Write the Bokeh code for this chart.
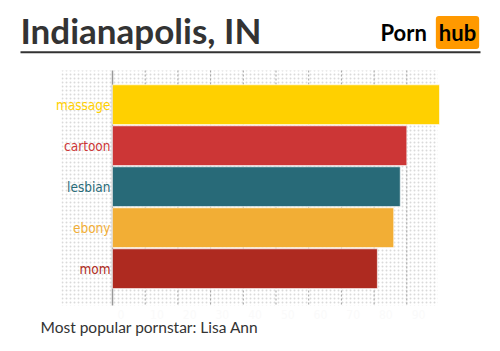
from bokeh.plotting import figure
from bokeh.models import Range1d, Label
from bokeh.embed import file_html
from bokeh.resources import INLINE
from bokeh.core.properties import value

# ---- data ----
categories = ["massage", "cartoon", "lesbian", "ebony", "mom"]
values = [100, 90, 88, 86, 81]
colors = ["#FFD000", "#CC3636", "#286A78", "#F2AE35", "#AE2A20"]
tick_values = [0, 10, 20, 30, 40, 50, 60, 70, 80, 90]
tick_labels = [str(t) for t in tick_values]
title_text = "Indianapolis, IN"
footer_text = "Most popular pornstar: Lisa Ann"

# ---- layout (pixel geometry of the page) ----
W, H = 500, 351
X0PX, XSCALE = 112.0, 3.27    # px of value 0, px per unit
Y0PX, YSTEP = 104.2, 41.0     # px of first bar centre, px per band


def px2x(px):
    return (px - X0PX) / XSCALE


def py2y(py):
    return (py - Y0PX) / YSTEP


p = figure(width=W, height=H, output_backend="svg", toolbar_location=None,
           x_range=Range1d(px2x(0), px2x(W)),
           y_range=Range1d(start=py2y(H), end=py2y(0)),
           x_axis_location=None, y_axis_location=None, min_border=0)
p.grid.visible = False
p.outline_line_color = None
p.background_fill_color = "white"
p.border_fill_color = "white"

# dotted background
p.quad(left=px2x(61), right=px2x(437), top=py2y(70), bottom=py2y(305),
       fill_color=None, line_color=None, hatch_pattern="dot",
       hatch_color="#d4d4d4", hatch_alpha=0.85, hatch_scale=4,
       hatch_weight=0.5)

# vertical grid lines
gx = tick_values[1:]
p.segment(x0=gx, x1=gx, y0=[py2y(70)] * len(gx), y1=[py2y(305)] * len(gx),
          line_color="#a0a0a0", line_dash="2 2", line_width=1)
# axis line
p.segment(x0=[0], x1=[0], y0=[py2y(70)], y1=[py2y(305)],
          line_color="#999999", line_width=1.5)

# bars
idx = list(range(len(categories)))
p.hbar(y=idx, left=0, right=values, height=0.97, fill_color=colors,
       line_color="white", line_alpha=0.6, line_width=1)

# category labels
p.text(x=[px2x(110)] * len(categories), y=idx, text=categories,
       text_color=colors, text_align="right", text_baseline="middle",
       text_font=value("DejaVu Sans Condensed"), text_font_size="13.5px")

# faint tick labels
p.text(x=[t + 1.5 for t in tick_values], y=[py2y(314)] * len(tick_values),
       text=tick_labels, text_color="#fafafa", text_align="left",
       text_baseline="middle", text_font=value("DejaVu Sans Condensed"),
       text_font_size="12px")

# title and rule
p.add_layout(Label(x=px2x(20), y=py2y(29), text=title_text,
                   text_font="Lato", text_font_style="bold",
                   text_font_size="35px", text_color="#333333",
                   text_baseline="middle"))
p.segment(x0=[px2x(20)], x1=[px2x(480)], y0=[py2y(51.8)], y1=[py2y(51.8)],
          line_color="#333333", line_width=2)

# logo
p.add_layout(Label(x=px2x(380), y=py2y(32), text="Porn",
                   text_font="Lato", text_font_style="bold",
                   text_font_size="22px", text_color="#000000",
                   text_baseline="middle"))
p.add_layout(Label(x=px2x(457), y=py2y(32), text="hub",
                   text_font="Lato", text_font_style="bold",
                   text_font_size="22px", text_color="#000000",
                   text_baseline="middle", text_align="center",
                   background_fill_color="#FF9900", border_radius=3,
                   padding=3))

# footer
p.add_layout(Label(x=px2x(40), y=py2y(326), text=footer_text,
                   text_font="Lato", text_font_size="15.5px",
                   text_color="#333333", text_baseline="middle"))

open("out.html", "w").write(file_html(p, INLINE))
